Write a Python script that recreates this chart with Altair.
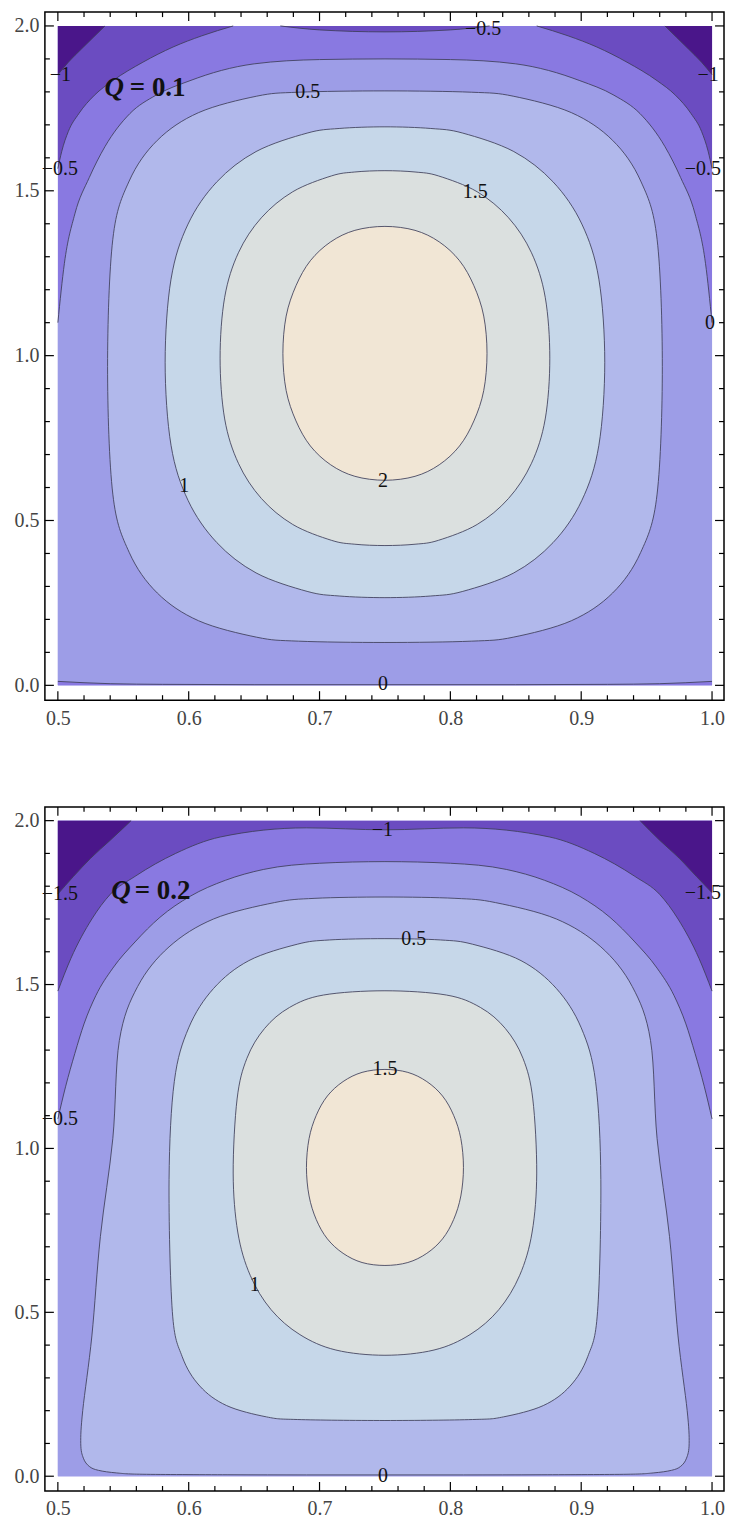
import altair as alt
import pandas as pd

# ---------------- frame / scale extents ----------------
XLO, XHI = 0.490091, 1.009146
YLO, YHI = -0.045, 2.042
XMIN, XMAX, YMIN, YMAX = 0.5, 1.0, 0.0, 2.0
PANEL_W = 681
PANEL_H = [690, 686]
FONT = "Liberation Serif, Times New Roman, serif"

X_MAJOR = [0.5, 0.6, 0.7, 0.8, 0.9, 1.0]
X_MINOR = [0.52, 0.54, 0.56, 0.58, 0.62, 0.64, 0.66, 0.68, 0.72, 0.74, 0.76, 0.78,
           0.82, 0.84, 0.86, 0.88, 0.92, 0.94, 0.96, 0.98]
Y_MAJOR = [0.0, 0.5, 1.0, 1.5, 2.0]
Y_MINOR = [0.1, 0.2, 0.3, 0.4, 0.6, 0.7, 0.8, 0.9, 1.1, 1.2, 1.3, 1.4, 1.6, 1.7, 1.8, 1.9]

PALETTE = ["#4a168a", "#6b4cc1", "#8979e1", "#9d9de7", "#b1b8eb", "#c6d7e9", "#dbe0df", "#f1e6d5"]
LINE_COLOR = "#3d3d58"

# ================= Panel 1 : Q = 0.1 =================
# closed contours: y (top->bottom), left x, right x
T_C2_Y = [1.392, 1.380, 1.345, 1.288, 1.212, 1.120, 1.007, 0.894, 0.802, 0.726, 0.669, 0.634, 0.622]
T_C2_XL = [0.750, 0.727, 0.7085, 0.693, 0.682, 0.6745, 0.672, 0.6745, 0.682, 0.693, 0.7085, 0.727, 0.750]
T_C2_XR = [0.750, 0.773, 0.7915, 0.807, 0.818, 0.8255, 0.828, 0.8255, 0.818, 0.807, 0.7915, 0.773, 0.750]

T_C15_Y = [1.561, 1.557, 1.545, 1.497, 1.418, 1.312, 1.177, 0.9925, 0.808, 0.6735, 0.567, 0.488,
           0.440, 0.428, 0.424]
T_C15_XL = [0.750, 0.727, 0.709, 0.6795, 0.6555, 0.638, 0.6275, 0.624, 0.6275, 0.638, 0.6555, 0.6795,
            0.709, 0.727, 0.750]
T_C15_XR = [0.750, 0.773, 0.791, 0.8205, 0.8445, 0.862, 0.8725, 0.876, 0.8725, 0.862, 0.8445, 0.8205,
            0.791, 0.773, 0.750]

T_C1_Y = [1.694, 1.689, 1.675, 1.619, 1.527, 1.399, 1.232, 0.980, 0.728, 0.561, 0.433, 0.341,
          0.285, 0.271, 0.266]
T_C1_XL = [0.750, 0.715, 0.6905, 0.6515, 0.6215, 0.5995, 0.5865, 0.582, 0.5865, 0.5995, 0.6215, 0.6515,
           0.6905, 0.715, 0.750]
T_C1_XR = [0.750, 0.785, 0.8095, 0.8485, 0.8785, 0.9005, 0.9135, 0.918, 0.9135, 0.9005, 0.8785, 0.8485,
           0.8095, 0.785, 0.750]

T_C05_Y = [1.803, 1.799, 1.787, 1.737, 1.653, 1.5295, 1.353, 0.9665, 0.580, 0.4035, 0.280, 0.196,
           0.146, 0.134, 0.130]
T_C05_XL = [0.750, 0.684, 0.652, 0.6075, 0.576, 0.5545, 0.542, 0.538, 0.542, 0.5545, 0.576, 0.6075,
            0.652, 0.684, 0.750]
T_C05_XR = [0.750, 0.816, 0.848, 0.8925, 0.924, 0.9455, 0.958, 0.962, 0.958, 0.9455, 0.924, 0.8925,
            0.848, 0.816, 0.750]

# open contours (edge to edge, x ascending)
T_C0_X = [0.500, 0.505, 0.513, 0.524, 0.536, 0.555, 0.575, 0.601, 0.625, 0.650, 0.700, 0.750,
          0.800, 0.850, 0.875, 0.899, 0.925, 0.945, 0.964, 0.976, 0.987, 0.995, 1.000]
T_C0_Y = [1.100, 1.280, 1.430, 1.540, 1.634, 1.734, 1.790, 1.834, 1.865, 1.885, 1.898, 1.900,
          1.898, 1.885, 1.865, 1.834, 1.790, 1.734, 1.634, 1.540, 1.430, 1.280, 1.100]
T_C0B_X = [0.500, 0.520, 0.540, 0.580, 0.650, 0.750, 0.850, 0.920, 0.960, 0.980, 1.000]
T_C0B_Y = [0.012, 0.008, 0.005, 0.003, 0.002, 0.002, 0.002, 0.003, 0.005, 0.008, 0.012]

T_CM05_LX = [0.500, 0.503, 0.508, 0.516, 0.528, 0.542, 0.565, 0.588, 0.610, 0.634]
T_CM05_LY = [1.567, 1.620, 1.680, 1.734, 1.790, 1.834, 1.890, 1.936, 1.970, 2.000]
T_CM05_MX = [0.670, 0.700, 0.750, 0.800, 0.830]
T_CM05_MY = [2.000, 1.988, 1.982, 1.988, 2.000]
T_CM05_RX = [0.866, 0.890, 0.912, 0.935, 0.958, 0.972, 0.984, 0.992, 0.997, 1.000]
T_CM05_RY = [2.000, 1.970, 1.936, 1.890, 1.834, 1.790, 1.734, 1.680, 1.620, 1.567]

T_CM1_LX = [0.500, 0.508, 0.518, 0.527, 0.536]
T_CM1_LY = [1.852, 1.890, 1.930, 1.965, 2.000]
T_CM1_RX = [0.964, 0.973, 0.982, 0.992, 1.000]
T_CM1_RY = [2.000, 1.965, 1.930, 1.890, 1.852]

T_LAB_T = ["\u22121", "\u22121", "\u22120.5", "\u22120.5", "\u22120.5", "0", "0.5", "1.5", "1", "2", "0"]
T_LAB_X = [0.5019, 0.997, 0.5015, 0.993, 0.825, 0.9985, 0.691, 0.819, 0.5965, 0.7485, 0.7485]
T_LAB_Y = [1.852, 1.852, 1.567, 1.567, 1.990, 1.100, 1.799, 1.496, 0.605, 0.619, 0.0045]

T_Q = ["Q", "= 0.1"]
T_Q_X = [0.5356, 0.5550]
T_Q_Y = [1.788, 1.788]

# ================= Panel 2 : Q = 0.2 =================
B_C15_Y = [1.241, 1.232, 1.204, 1.160, 1.101, 1.030, 0.942, 0.855, 0.783, 0.724, 0.680, 0.652, 0.643]
B_C15_XL = [0.750, 0.7325, 0.718, 0.706, 0.6975, 0.692, 0.690, 0.692, 0.6975, 0.706, 0.718, 0.7325, 0.750]
B_C15_XR = [0.750, 0.7675, 0.782, 0.794, 0.8025, 0.808, 0.810, 0.808, 0.8025, 0.794, 0.782, 0.7675, 0.750]

B_C1_Y = [1.481, 1.468, 1.430, 1.366, 1.275, 1.151, 0.925, 0.745, 0.613, 0.508, 0.432, 0.385, 0.369]
B_C1_XL = [0.750, 0.703, 0.677, 0.658, 0.6445, 0.637, 0.634, 0.6375, 0.647, 0.663, 0.685, 0.7125, 0.750]
B_C1_XR = [0.750, 0.797, 0.823, 0.842, 0.8555, 0.863, 0.866, 0.8625, 0.853, 0.837, 0.815, 0.7875, 0.750]

B_C05_Y = [1.640, 1.636, 1.623, 1.573, 1.488, 1.368, 1.204, 0.905, 0.502, 0.365, 0.275, 0.2155,
           0.181, 0.173, 0.170]
B_C05_XL = [0.750, 0.7075, 0.683, 0.646, 0.619, 0.600, 0.589, 0.585, 0.5875, 0.595, 0.6085, 0.629,
            0.6595, 0.683, 0.750]
B_C05_XR = [0.750, 0.7925, 0.817, 0.854, 0.881, 0.900, 0.911, 0.915, 0.9125, 0.905, 0.8915, 0.871,
            0.8405, 0.817, 0.750]

B_C0_Y = [1.767, 1.763, 1.750, 1.700, 1.615, 1.494, 1.329, 1.030, 0.731, 0.428, 0.200, 0.100,
          0.055, 0.030, 0.018, 0.010, 0.006, 0.0045, 0.004, 0.004]
B_C0_XL = [0.750, 0.6965, 0.6655, 0.619, 0.585, 0.561, 0.547, 0.542, 0.5325, 0.526, 0.519, 0.5175,
           0.5195, 0.524, 0.531, 0.545, 0.565, 0.630, 0.690, 0.750]
B_C0_XR = [0.750, 0.8035, 0.8345, 0.881, 0.915, 0.939, 0.953, 0.958, 0.9675, 0.974, 0.981, 0.9825,
           0.9805, 0.976, 0.969, 0.955, 0.935, 0.870, 0.810, 0.750]

B_CM05_X = [0.500, 0.506, 0.513, 0.520, 0.529, 0.542, 0.559, 0.578, 0.601, 0.628, 0.657, 0.700,
            0.750, 0.800, 0.843, 0.872, 0.899, 0.922, 0.941, 0.958, 0.971, 0.980, 0.987, 0.994, 1.000]
B_CM05_Y = [1.090, 1.190, 1.290, 1.380, 1.466, 1.550, 1.630, 1.705, 1.769, 1.818, 1.851, 1.870,
            1.875, 1.870, 1.851, 1.818, 1.769, 1.705, 1.630, 1.550, 1.466, 1.380, 1.290, 1.190, 1.090]

B_CM1_X = [0.500, 0.510, 0.526, 0.540, 0.559, 0.590, 0.624, 0.690, 0.750, 0.810, 0.876, 0.910,
           0.941, 0.960, 0.974, 0.990, 1.000]
B_CM1_Y = [1.480, 1.580, 1.700, 1.775, 1.830, 1.900, 1.950, 1.978, 1.972, 1.978, 1.950, 1.900,
           1.830, 1.775, 1.700, 1.580, 1.480]

B_CM15_LX = [0.500, 0.512, 0.525, 0.540, 0.556]
B_CM15_LY = [1.776, 1.830, 1.885, 1.940, 2.000]
B_CM15_RX = [0.945, 0.960, 0.975, 0.988, 1.000]
B_CM15_RY = [2.000, 1.940, 1.885, 1.830, 1.780]

B_LAB_T = ["\u22121", "\u22121.5", "\u22121.5", "\u22120.5", "0.5", "1.5", "1", "0"]
B_LAB_X = [0.748, 0.5015, 0.993, 0.5015, 0.772, 0.750, 0.6505, 0.7485]
B_LAB_Y = [1.970, 1.775, 1.778, 1.090, 1.639, 1.241, 0.583, 0.002]

B_Q = ["Q", "= 0.2"]
B_Q_X = [0.5408, 0.5588]
B_Q_Y = [1.760, 1.760]

# ---------------- helpers ----------------
XS = alt.Scale(domain=[XLO, XHI], nice=False, zero=False)
YS = alt.Scale(domain=[YLO, YHI], nice=False, zero=False)
MAJOR_LEN, MINOR_LEN = 9, 5


def loop(ys, xl, xr):
    xs = list(xl) + list(xr[-2:0:-1])
    yy = list(ys) + list(ys[-2:0:-1])
    return xs, yy


def df_path(xs, ys, gid=0):
    return pd.DataFrame({"x": xs, "y": ys, "i": list(range(len(xs))), "g": [gid] * len(xs)})


def xy(xaxis=None, yaxis=None):
    return dict(x=alt.X("x:Q", scale=XS, axis=xaxis), y=alt.Y("y:Q", scale=YS, axis=yaxis))


def loop_fill(path, color):
    xs, ys = path
    return alt.Chart(df_path(xs, ys)).mark_line(
        interpolate="cardinal-closed", fill=color, strokeOpacity=0, strokeWidth=0
    ).encode(order="i:Q", **xy())


def band_fill(xs, ys, base, color):
    df = pd.DataFrame({"x": xs, "y": ys, "y2": [base] * len(xs)})
    return alt.Chart(df).mark_area(interpolate="monotone", color=color, opacity=1).encode(
        y2="y2:Q", **xy())


def arcs_line(paths):
    df = pd.concat([df_path(xs, ys, k) for k, (xs, ys) in enumerate(paths)], ignore_index=True)
    return alt.Chart(df).mark_line(
        interpolate="monotone", stroke=LINE_COLOR, strokeWidth=1, strokeOpacity=0.85
    ).encode(detail="g:N", **xy())


def loops_line(paths):
    df = pd.concat([df_path(xs, ys, k) for k, (xs, ys) in enumerate(paths)], ignore_index=True)
    return alt.Chart(df).mark_line(
        interpolate="cardinal-closed", stroke=LINE_COLOR, strokeWidth=1, strokeOpacity=0.85
    ).encode(detail="g:N", order="i:Q", **xy())


LABEL_STYLE = dict(grid=False, title=None, ticks=False, domain=False, labelFont=FONT,
                   labelFontSize=20, labelColor="#444444", labelFlush=False, labelOverlap=False)
AX_B = alt.Axis(orient="bottom", values=X_MAJOR, format=".1f", labelPadding=8, **LABEL_STYLE)
AY_L = alt.Axis(orient="left", values=Y_MAJOR, format=".1f", labelPadding=6, **LABEL_STYLE)


def base_rect(color):
    df = pd.DataFrame({"x": [XMIN], "x2": [XMAX], "y": [YMIN], "y2": [YMAX]})
    return alt.Chart(df).mark_rect(color=color).encode(
        x=alt.X("x:Q", scale=XS, axis=AX_B), x2="x2:Q",
        y=alt.Y("y:Q", scale=YS, axis=AY_L), y2="y2:Q")


def frame_ticks(h):
    """Inward frame ticks on all four sides, positioned by the tick-value arrays."""
    layers = []
    for vals, ln in ((X_MAJOR, MAJOR_LEN), (X_MINOR, MINOR_LEN)):
        d = pd.DataFrame({"x": vals})
        base = alt.Chart(d).mark_rule(color="black", strokeWidth=1.2)
        xenc = alt.X("x:Q", scale=XS, axis=None)
        layers.append(base.encode(x=xenc, y=alt.value(0), y2=alt.value(ln)))
        layers.append(base.encode(x=xenc, y=alt.value(h), y2=alt.value(h - ln)))
    for vals, ln in ((Y_MAJOR, MAJOR_LEN), (Y_MINOR, MINOR_LEN)):
        d = pd.DataFrame({"y": vals})
        base = alt.Chart(d).mark_rule(color="black", strokeWidth=1.2)
        yenc = alt.Y("y:Q", scale=YS, axis=None)
        layers.append(base.encode(y=yenc, x=alt.value(0), x2=alt.value(ln)))
        layers.append(base.encode(y=yenc, x=alt.value(PANEL_W), x2=alt.value(PANEL_W - ln)))
    return layers


def labels_layer(t, xs, ys):
    df = pd.DataFrame({"x": xs, "y": ys, "t": t})
    return alt.Chart(df).mark_text(font=FONT, fontSize=20, color="#111111",
                                   align="center", baseline="middle").encode(text="t:N", **xy())


def q_layers(t, xs, ys):
    df1 = pd.DataFrame({"x": xs[:1], "y": ys[:1], "t": t[:1]})
    df2 = pd.DataFrame({"x": xs[1:], "y": ys[1:], "t": t[1:]})
    a = alt.Chart(df1).mark_text(font=FONT, fontSize=27, fontWeight="bold",
                                 fontStyle="italic", color="#111111", align="left",
                                 baseline="alphabetic").encode(text="t:N", **xy())
    b = alt.Chart(df2).mark_text(font=FONT, fontSize=27, fontWeight="bold",
                                 color="#111111", align="left",
                                 baseline="alphabetic").encode(text="t:N", **xy())
    return [a, b]


def finish(layers, h):
    return alt.layer(*(layers + frame_ticks(h))).resolve_axis(
        x="independent", y="independent").properties(width=PANEL_W, height=h)


# ---------------- panel 1 ----------------
top_loops = [loop(T_C05_Y, T_C05_XL, T_C05_XR), loop(T_C1_Y, T_C1_XL, T_C1_XR),
             loop(T_C15_Y, T_C15_XL, T_C15_XR), loop(T_C2_Y, T_C2_XL, T_C2_XR)]
top_layers = [
    base_rect(PALETTE[2]),
    band_fill(T_C0_X, T_C0_Y, YMIN, PALETTE[3]),
    band_fill(T_C0B_X, T_C0B_Y, YMIN, PALETTE[2]),
    band_fill(T_CM05_LX, T_CM05_LY, YMAX, PALETTE[1]),
    band_fill(T_CM05_MX, T_CM05_MY, YMAX, PALETTE[1]),
    band_fill(T_CM05_RX, T_CM05_RY, YMAX, PALETTE[1]),
    band_fill(T_CM1_LX, T_CM1_LY, YMAX, PALETTE[0]),
    band_fill(T_CM1_RX, T_CM1_RY, YMAX, PALETTE[0]),
] + [loop_fill(p, PALETTE[4 + k]) for k, p in enumerate(top_loops)] + [
    arcs_line([(T_C0_X, T_C0_Y), (T_C0B_X, T_C0B_Y), (T_CM05_LX, T_CM05_LY),
               (T_CM05_MX, T_CM05_MY), (T_CM05_RX, T_CM05_RY),
               (T_CM1_LX, T_CM1_LY), (T_CM1_RX, T_CM1_RY)]),
    loops_line(top_loops),
    labels_layer(T_LAB_T, T_LAB_X, T_LAB_Y),
] + q_layers(T_Q, T_Q_X, T_Q_Y)

top = finish(top_layers, PANEL_H[0])

# ---------------- panel 2 ----------------
bot_loops = [loop(B_C0_Y, B_C0_XL, B_C0_XR), loop(B_C05_Y, B_C05_XL, B_C05_XR),
             loop(B_C1_Y, B_C1_XL, B_C1_XR), loop(B_C15_Y, B_C15_XL, B_C15_XR)]
bot_layers = [
    base_rect(PALETTE[2]),
    band_fill(B_CM05_X, B_CM05_Y, YMIN, PALETTE[3]),
    band_fill(B_CM1_X, B_CM1_Y, YMAX, PALETTE[1]),
    band_fill(B_CM15_LX, B_CM15_LY, YMAX, PALETTE[0]),
    band_fill(B_CM15_RX, B_CM15_RY, YMAX, PALETTE[0]),
] + [loop_fill(p, PALETTE[4 + k]) for k, p in enumerate(bot_loops)] + [
    arcs_line([(B_CM05_X, B_CM05_Y), (B_CM1_X, B_CM1_Y),
               (B_CM15_LX, B_CM15_LY), (B_CM15_RX, B_CM15_RY)]),
    loops_line(bot_loops),
    labels_layer(B_LAB_T, B_LAB_X, B_LAB_Y),
] + q_layers(B_Q, B_Q_X, B_Q_Y)

bottom = finish(bot_layers, PANEL_H[1])

chart = alt.vconcat(top, bottom, spacing=76).properties(
    padding={"left": 5, "top": 0, "right": 0, "bottom": -2}
).configure(background="white").configure_view(stroke="black", strokeWidth=1.5)

chart.save("out.html", embed_options={"renderer": "svg", "actions": False})
